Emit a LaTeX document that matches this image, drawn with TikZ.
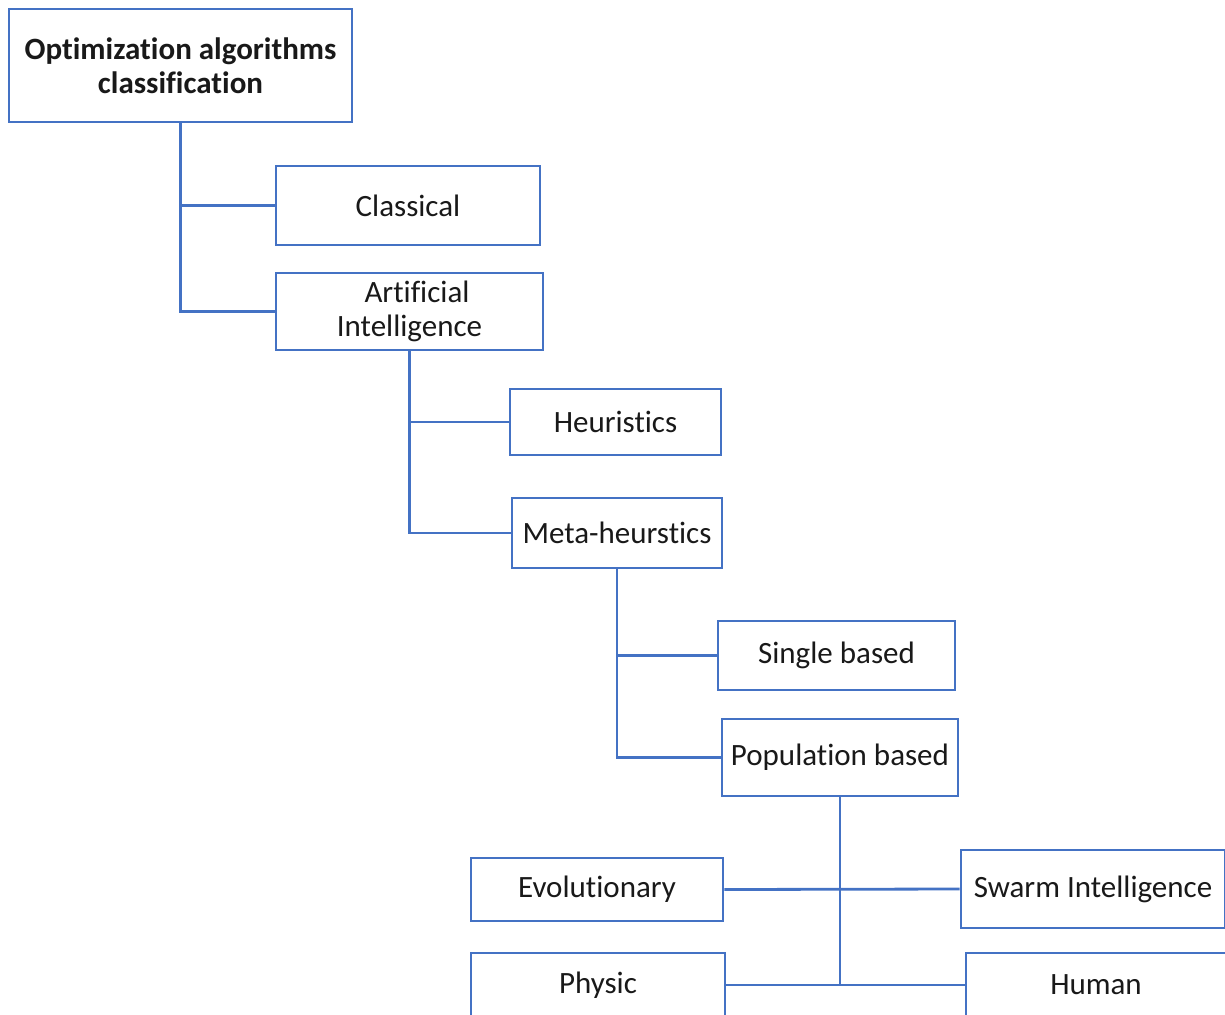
\documentclass[tikz,border=0pt]{standalone}
\usepackage{fontspec}
\setmainfont{Carlito}[RawFeature={-liga;-clig;-calt;-dlig}]
\definecolor{lineblue}{HTML}{4472C4}
\begin{document}
\begin{tikzpicture}[x=1pt,y=-1pt,
  box/.style={draw=lineblue,line width=2.8pt,fill=white,inner sep=0pt,align=center,
    font=\fontsize{31}{34}\selectfont,text=black!90},
  link/.style={draw=lineblue,line width=2.8pt}]
\useasboundingbox (0,0) rectangle (1225,1014);
\clip (0,0) rectangle (1225,1014);
\node[box,minimum width=343pt,minimum height=113pt,font=\fontsize{31}{34}\selectfont\bfseries] (root) at (180.5,65.5) {Optimization algorithms\\classification};
\node[box,minimum width=264pt,minimum height=79pt] (classical) at (408,205.5) {Classical};
\node[box,minimum width=267pt,minimum height=77pt] (ai) at (409.5,311.5) {\hspace*{15pt}Artificial\\Intelligence};
\node[box,minimum width=211pt,minimum height=66pt] (heur) at (615.5,422) {Heuristics};
\node[box,minimum width=210pt,minimum height=70pt] (meta) at (617,533) {Meta-heurstics};
\node[box,minimum width=237pt,minimum height=69pt] (single) at (836.5,655.5) {Single based};
\node[box,minimum width=236pt,minimum height=77pt] (pop) at (840,757.5) {Population based};
\node[box,minimum width=252pt,minimum height=63pt] (evo) at (597,889.5) {Evolutionary};
\node[box,minimum width=264pt,minimum height=78pt] (swarm) at (1093,889) {Swarm Intelligence};
\node[box,minimum width=254pt,minimum height=64pt] (physic) at (598,985) {Physic};
\node[box,minimum width=260pt,minimum height=64pt] (human) at (1096,985) {Human};
\draw[link] (root.south) |- (classical.west);
\draw[link] (root.south) |- (ai.west);
\draw[link] (ai.south) |- (heur.west);
\draw[link] (ai.south) |- (meta.west);
\draw[link] (meta.south) |- (single.west);
\draw[link] (meta.south) |- (pop.west);
\draw[link] (pop.south) -- (pop.south |- physic.east);
\draw[link] (evo.east) -- (swarm.west);
\draw[link] (physic.east) -- (human.west);
\end{tikzpicture}
\end{document}
